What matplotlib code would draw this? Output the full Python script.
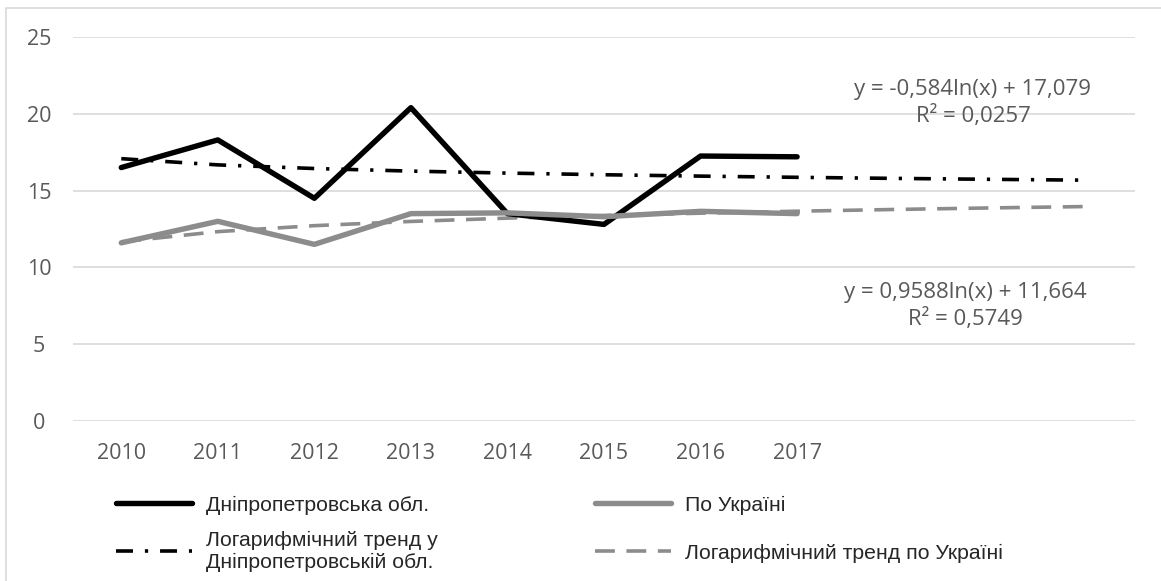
import numpy as np
import matplotlib.pyplot as plt
from matplotlib.lines import Line2D
from matplotlib.patches import Rectangle

# data
years = ['2010', '2011', '2012', '2013', '2014', '2015', '2016', '2017']
dnipro = [16.5, 18.3, 14.5, 20.4, 13.5, 12.8, 17.25, 17.2]
ukraine = [11.6, 13.0, 11.5, 13.5, 13.55, 13.3, 13.65, 13.5]

# logarithmic trend lines (as printed on the chart), 3 periods forward
dn_a, dn_b = -0.584, 17.079
ua_a, ua_b = 0.9588, 11.664
forward = 3

dn_eq = 'y = -0,584ln(x) + 17,079\nR² = 0,0257'
ua_eq = 'y = 0,9588ln(x) + 11,664\nR² = 0,5749'

labels = ['Дніпропетровська обл.', 'По Україні',
          'Логарифмічний тренд у\nДніпропетровській обл.',
          'Логарифмічний тренд по Україні']

tick_font = 'Open Sans'
legend_font = 'Liberation Sans'
tick_col = '#595959'
gray = '#8c8c8c'
dashdot = (4.7, 3.3, 0.9, 3.3)
dashed = (5.5, 3.2)

fig = plt.figure(figsize=(11.61, 5.81), dpi=100)
ax = fig.add_axes([73 / 1161, 1 - 421 / 581, (1135 - 73) / 1161, (421 - 37) / 581])

x = np.arange(1, len(years) + 1)
xt = np.arange(1, len(years) + forward + 1)

ax.plot(xt, dn_a * np.log(xt) + dn_b, color='black', lw=2.6,
        dashes=dashdot, zorder=3)
ax.plot(xt, ua_a * np.log(xt) + ua_b, color=gray, lw=2.6,
        dashes=dashed, zorder=3)
ax.plot(x, dnipro, color='black', lw=3.9, solid_capstyle='round', zorder=4)
ax.plot(x, ukraine, color=gray, lw=3.9, solid_capstyle='round', zorder=4)

ax.set_xlim(0.5, len(xt) + 0.5)
ax.set_ylim(0, 25)
ax.set_yticks(range(0, 26, 5))
ax.set_xticks(x)
ax.set_xticklabels(years)
ax.yaxis.grid(True, color='#d9d9d9', lw=1.2)
ax.set_axisbelow(True)
for s in ax.spines.values():
    s.set_visible(False)
ax.tick_params(length=0, labelsize=15.5, labelcolor=tick_col)
ax.tick_params(axis='x', pad=16)
ax.tick_params(axis='y', pad=24.5)
for t in ax.get_xticklabels() + ax.get_yticklabels():
    t.set_fontfamily(tick_font)
for t in ax.get_yticklabels():
    t.set_horizontalalignment('center')

fig.text(973 / 1161, 1 - 103 / 581, dn_eq, ha='center', va='center',
         fontsize=16, color=tick_col, family=tick_font, linespacing=1.3)
fig.text(965 / 1161, 1 - 306 / 581, ua_eq, ha='center', va='center',
         fontsize=16, color=tick_col, family=tick_font, linespacing=1.3)

h_dn = Line2D([], [], color='black', lw=3.9, solid_capstyle='round')
h_ua = Line2D([], [], color=gray, lw=3.9, solid_capstyle='round')
h_dnt = Line2D([], [], color='black', lw=2.6, dashes=dashdot)
h_uat = Line2D([], [], color=gray, lw=2.6, dashes=dashed)

leg_kw = dict(frameon=False, handlelength=3.6, handletextpad=0.65,
              borderaxespad=0, prop={'family': legend_font, 'size': 15.3},
              labelcolor='#262626', loc='upper left')
leg1 = fig.legend([h_dn, h_dnt], [labels[0], labels[2]], labelspacing=0.75,
                  bbox_to_anchor=(107 / 1161, 1 - 487 / 581), **leg_kw)
leg2 = fig.legend([h_ua, h_uat], [labels[1], labels[3]], labelspacing=1.36,
                  bbox_to_anchor=(586 / 1161, 1 - 487 / 581), **leg_kw)

# chart area border
fig.patches.append(Rectangle((6 / 1161, -0.05), 1.2, 1 - 8 / 581 + 0.05,
                             transform=fig.transFigure, fill=False,
                             edgecolor='#d9d9d9', lw=1.2))

fig.savefig('out.png', dpi=100)
